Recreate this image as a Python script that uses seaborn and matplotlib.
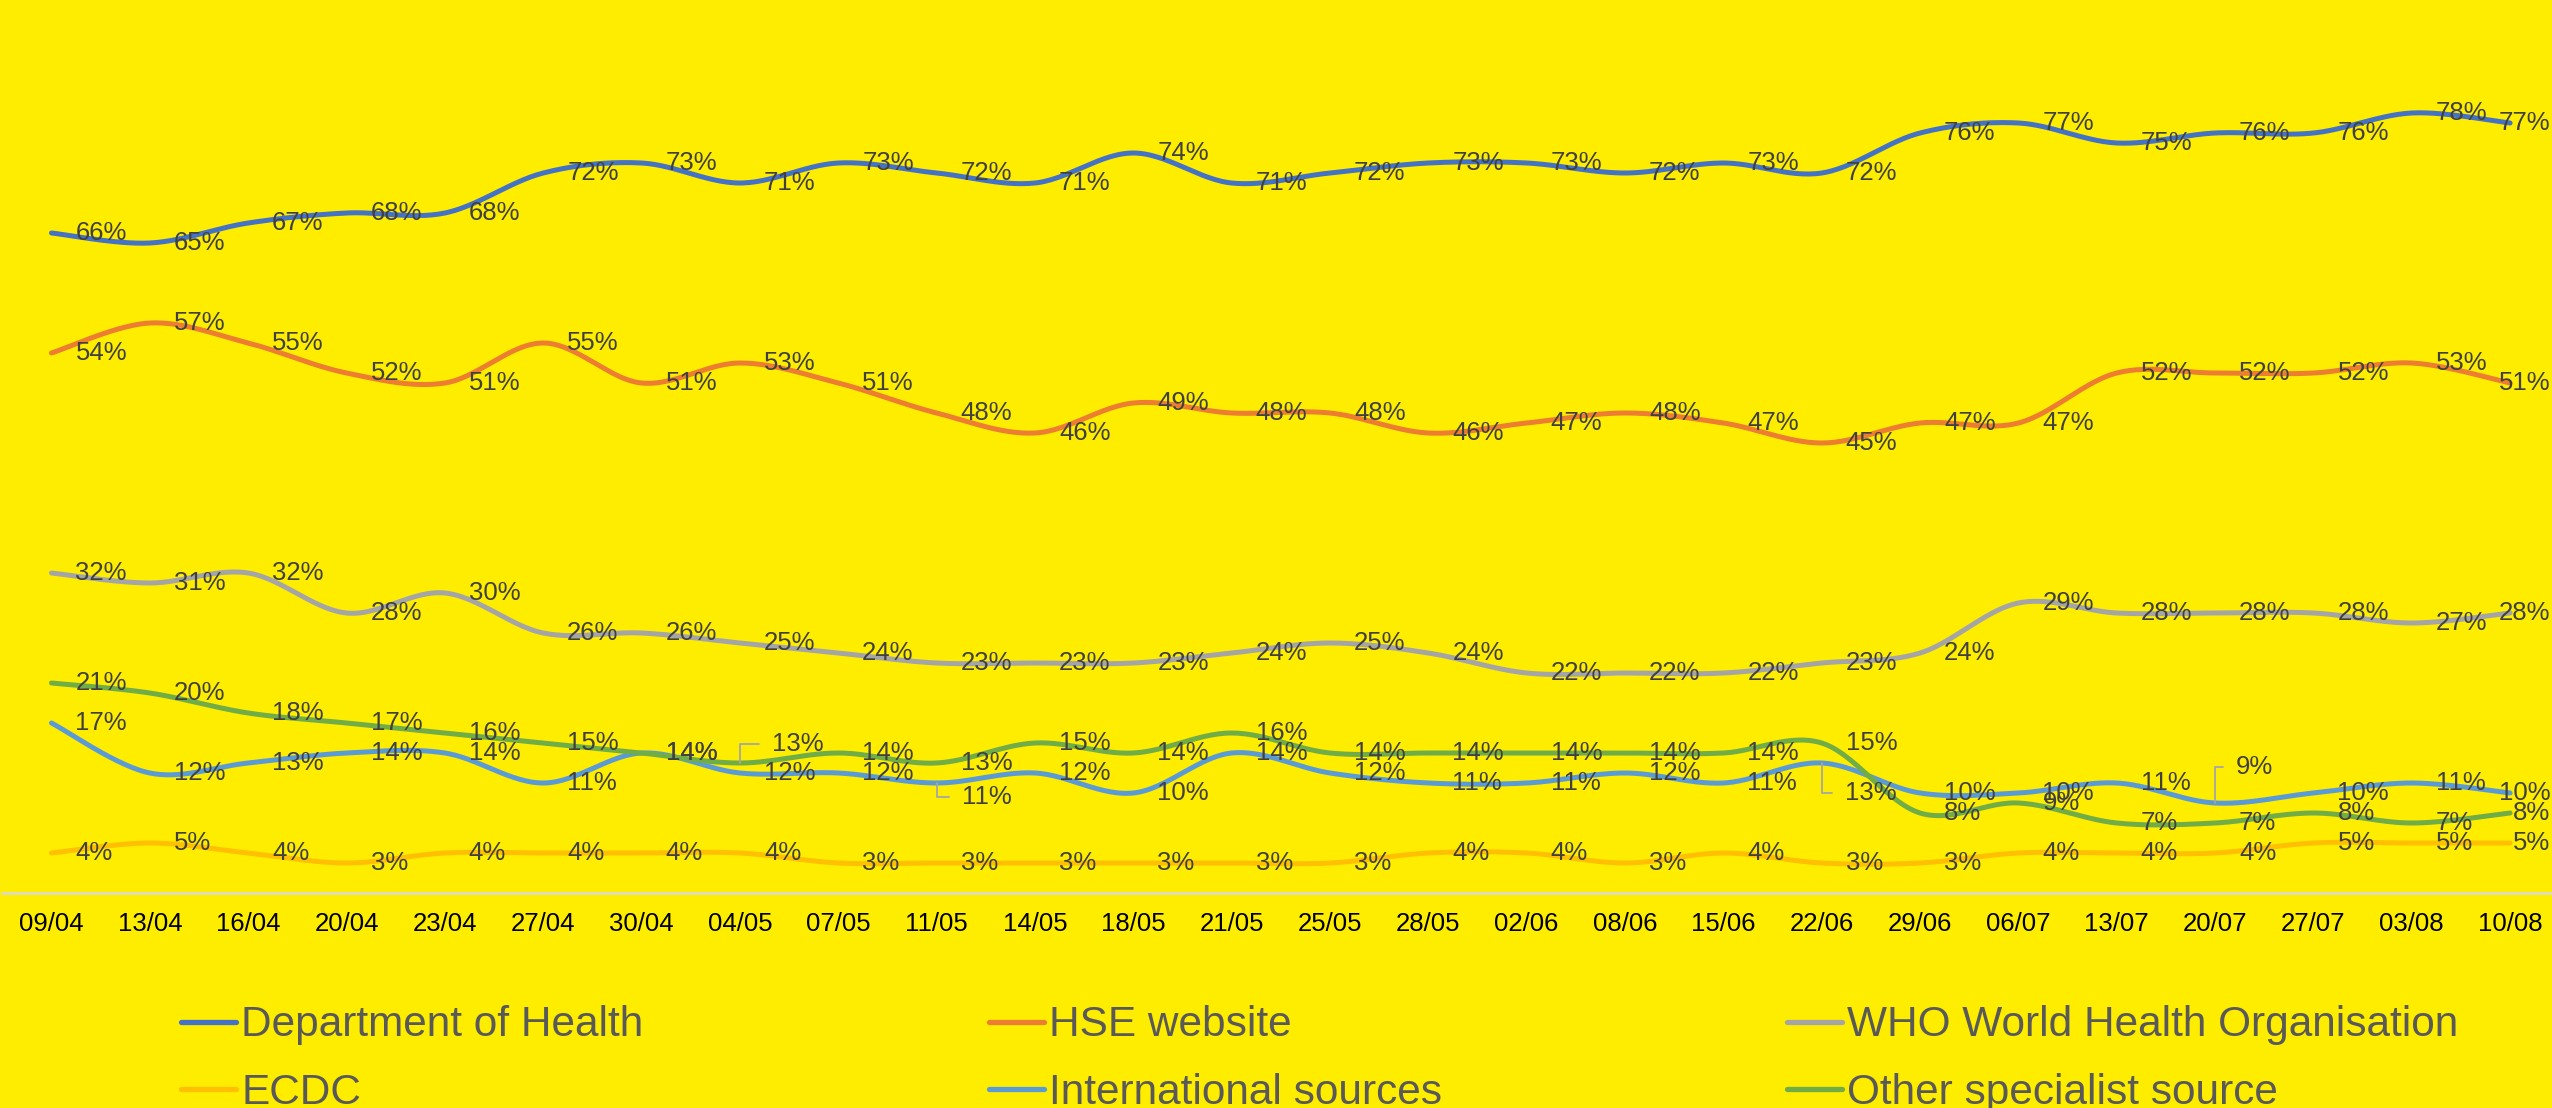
import numpy as np
import pandas as pd
import matplotlib
matplotlib.use("Agg")
import matplotlib.pyplot as plt
import seaborn as sns
from matplotlib.lines import Line2D

# ---------------- data ----------------
dates = ["09/04", "13/04", "16/04", "20/04", "23/04", "27/04", "30/04", "04/05",
         "07/05", "11/05", "14/05", "18/05", "21/05", "25/05", "28/05", "02/06",
         "08/06", "15/06", "22/06", "29/06", "06/07", "13/07", "20/07", "27/07",
         "03/08", "10/08"]

dept_health = [66, 65, 67, 68, 68, 72, 73, 71, 73, 72, 71, 74, 71, 72, 73, 73,
               72, 73, 72, 76, 77, 75, 76, 76, 78, 77]
hse_website = [54, 57, 55, 52, 51, 55, 51, 53, 51, 48, 46, 49, 48, 48, 46, 47,
               48, 47, 45, 47, 47, 52, 52, 52, 53, 51]
who = [32, 31, 32, 28, 30, 26, 26, 25, 24, 23, 23, 23, 24, 25, 24, 22,
       22, 22, 23, 24, 29, 28, 28, 28, 27, 28]
ecdc = [4, 5, 4, 3, 4, 4, 4, 4, 3, 3, 3, 3, 3, 3, 4, 4,
        3, 4, 3, 3, 4, 4, 4, 5, 5, 5]
international = [17, 12, 13, 14, 14, 11, 14, 12, 12, 11, 12, 10, 14, 12, 11, 11,
                 12, 11, 13, 10, 10, 11, 9, 10, 11, 10]
other_specialist = [21, 20, 18, 17, 16, 15, 14, 13, 14, 13, 15, 14, 16, 14, 14, 14,
                    14, 14, 15, 8, 9, 7, 7, 8, 7, 8]

series_names = ["Department of Health", "HSE website", "WHO World Health Organisation",
                "ECDC", "International sources", "Other specialist source"]
series_values = [dept_health, hse_website, who, ecdc, international, other_specialist]
colors = ["#4472C4", "#ED7D31", "#A5A5A5", "#FFC000", "#5B9BD5", "#70AD47"]

# ---------------- style ----------------
BG = "#FFED00"
sns.set_theme(style="white")
plt.rcParams["font.family"] = ["Liberation Sans", "DejaVu Sans"]

W, H = 2552, 1108
fig = plt.figure(figsize=(W / 100, H / 100), dpi=100, facecolor=BG)
ax = fig.add_axes([2.3 / W, 215 / H, 2557 / W, 893 / H])
ax.set_facecolor(BG)


def smooth_curve(ys, n=30):
    """Excel-like smoothed line rendering (cubic Bezier, Catmull-Rom control points)."""
    p = np.column_stack([np.arange(len(ys), dtype=float), np.asarray(ys, dtype=float)])
    out = []
    m = len(p)
    for i in range(m - 1):
        p0 = p[i - 1] if i > 0 else p[i]
        p1 = p[i]
        p2 = p[i + 1]
        p3 = p[i + 2] if i + 2 < m else p[i + 1]
        c1 = p1 + (p2 - p0) / 6.0
        c2 = p2 - (p3 - p1) / 6.0
        t = np.linspace(0, 1, n, endpoint=(i == m - 2))[:, None]
        seg = ((1 - t) ** 3) * p1 + 3 * ((1 - t) ** 2) * t * c1 + 3 * (1 - t) * t ** 2 * c2 + t ** 3 * p2
        out.append(seg)
    out = np.vstack(out)
    return out[:, 0], out[:, 1]


frames = []
for name, vals in zip(series_names, series_values):
    sx, sy = smooth_curve(vals)
    frames.append(pd.DataFrame({"x": sx, "y": sy, "series": name}))
df = pd.concat(frames, ignore_index=True)

sns.lineplot(data=df, x="x", y="y", hue="series", hue_order=series_names,
             palette=colors, sort=False, estimator=None, legend=False,
             linewidth=3.6, ax=ax)
for ln in ax.lines:
    ln.set_solid_capstyle("round")

# ---------------- data labels ----------------
label_color = "#404040"
base_dx = 24  # pixels right of the point
leader_offsets = {
    ("Other specialist source", 7): (32, 19),
    ("International sources", 9): (25, -14),
    ("International sources", 18): (23, -30),
    ("International sources", 22): (21, 36),
}
last = len(dates) - 1
for name, vals in zip(series_names, series_values):
    for i, v in enumerate(vals):
        key = (name, i)
        if key in leader_offsets:
            dx, dy = leader_offsets[key]
            ax.annotate(f"{v}%", xy=(i, v), xytext=(dx, dy), textcoords="offset pixels",
                        ha="left", va="center", fontsize=18.5, color=label_color,
                        arrowprops=dict(arrowstyle="-", color="#A6A6A6", lw=1.3,
                                        connectionstyle="angle,angleA=0,angleB=90,rad=0",
                                        relpos=(0, 0.5), shrinkA=7, shrinkB=0))
        elif i == last:
            # kept inside the chart area, as the reference does
            ax.annotate(f"{v}%", xy=(i, v), xytext=(40, 0), textcoords="offset pixels",
                        ha="right", va="center", fontsize=18.5, color=label_color)
        else:
            ax.annotate(f"{v}%", xy=(i, v), xytext=(base_dx, 0), textcoords="offset pixels",
                        ha="left", va="center", fontsize=18.5, color=label_color)

# ---------------- axes ----------------
ax.set_xlim(-0.5, len(dates) - 0.5)
ax.set_ylim(0, 89.3)
ax.set_xticks(range(len(dates)))
ax.set_xticklabels(dates)
ax.set_yticks([])
ax.set_xlabel("")
ax.set_ylabel("")
ax.tick_params(axis="x", length=0, pad=14, labelsize=18.5, labelcolor="black")
for s in ["top", "left", "right"]:
    ax.spines[s].set_visible(False)
ax.spines["bottom"].set_color("#D9D9D9")
ax.spines["bottom"].set_linewidth(1.8)

# ---------------- legend ----------------
order = [0, 3, 1, 4, 2, 5]  # column-major fill to get row order of the reference
handles = [Line2D([0], [0], color=colors[k], lw=3.8, solid_capstyle="round") for k in order]
labels = [series_names[k] for k in order]
fig.legend(handles, labels, ncol=3, loc="center left",
           bbox_to_anchor=(181 / W, 49 / H), frameon=False, fontsize=30.5,
           handlelength=1.3, handletextpad=0.12, columnspacing=8.15,
           labelspacing=0.64, borderpad=0, borderaxespad=0, labelcolor="#595959")

fig.savefig("out.png", dpi=100, facecolor=BG)
